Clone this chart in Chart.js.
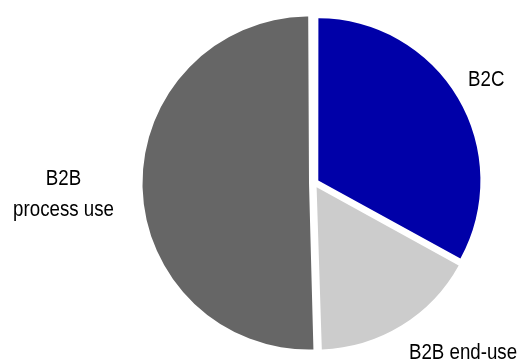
<!DOCTYPE html>
<html>
<head>
<meta charset="utf-8">
<script src="https://cdn.jsdelivr.net/npm/chart.js@4/dist/chart.umd.min.js"></script>
<style>
  html, body { margin: 0; padding: 0; background: #ffffff; }
  #wrap { width: 527px; height: 362px; }
</style>
</head>
<body>
<div id="wrap"><canvas id="c" width="527" height="362"></canvas></div>
<script>
// Market split by customer segment (share of total, %)
const categories = ['B2C', 'B2B end-use', 'B2B process use'];
const shares = [33, 16.5, 50.5];
const labelLines = [['B2C'], ['B2B end-use'], ['B2B', 'process use']];
const sliceColors = ['#0000A8', '#CCCCCC', '#666666'];

// Where each category label sits, relative to the outer edge of its slice
const labelNudge = [
  { dx: 29, dy: -20 },
  { dx: 62, dy: 26 },
  { dx: -84, dy: -8 }
];

const LABEL_FONT = '22px "Liberation Sans", Arial, sans-serif';
const LABEL_SQUEEZE = 0.85;
const LINE_HEIGHT = 31;
const CAP_RATIO = 0.716;

const sliceLabels = {
  id: 'sliceLabels',
  afterDatasetsDraw(chart) {
    const ctx = chart.ctx;
    const arcs = chart.getDatasetMeta(0).data;
    const capH = 22 * CAP_RATIO;
    ctx.save();
    ctx.font = LABEL_FONT;
    ctx.fillStyle = '#000000';
    ctx.textAlign = 'center';
    ctx.textBaseline = 'alphabetic';
    arcs.forEach((arc, i) => {
      const p = arc.getProps(['x', 'y', 'startAngle', 'endAngle', 'outerRadius'], true);
      // exploded slices are drawn a quarter of their offset wider
      const rim = p.outerRadius + (arc.options.offset || 0) / 4;
      const mid = (p.startAngle + p.endAngle) / 2;
      const ex = p.x + Math.cos(mid) * rim;
      const ey = p.y + Math.sin(mid) * rim;
      const cx = ex + labelNudge[i].dx;
      const cy = ey + labelNudge[i].dy;
      labelLines[i].forEach((line, k) => {
        ctx.save();
        ctx.translate(cx, cy + capH / 2 + k * LINE_HEIGHT);
        ctx.scale(LABEL_SQUEEZE, 1);
        ctx.fillText(line, 0, 0);
        ctx.restore();
      });
    });
    ctx.restore();
  }
};

new Chart(document.getElementById('c'), {
  type: 'pie',
  data: {
    labels: categories,
    datasets: [{
      data: shares,
      backgroundColor: sliceColors,
      borderWidth: 0,
      offset: 20
    }]
  },
  options: {
    responsive: false,
    animation: false,
    layout: { padding: { left: 114, right: 13, top: 11.5, bottom: 7.5 } },
    plugins: {
      legend: { display: false },
      tooltip: { enabled: false }
    }
  },
  plugins: [sliceLabels]
});
</script>
</body>
</html>
